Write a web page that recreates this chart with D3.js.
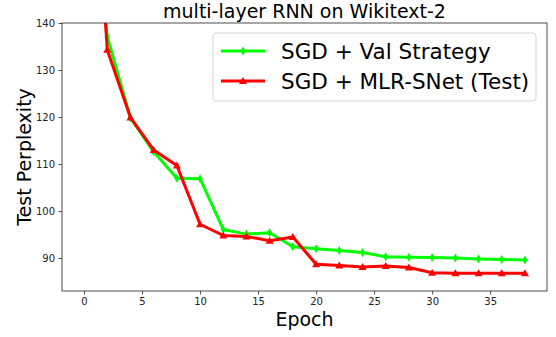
<!DOCTYPE html>
<html>
<head>
<meta charset="utf-8">
<script src="https://cdn.jsdelivr.net/npm/d3@7"></script>
<style>
body { margin: 0; background: #fff; }
text { font-family: "DejaVu Sans", sans-serif; }
</style>
</head>
<body>
<script>
var epochs = [0, 2, 4, 6, 8, 10, 12, 14, 16, 18, 20, 22, 24, 26, 28, 30, 32, 34, 36, 38];
var valStrategy = [178, 137.1, 119.8, 112.6, 107.0, 106.9, 96.1, 95.1, 95.4, 92.4, 92.0, 91.6, 91.2, 90.3, 90.2, 90.1, 90.0, 89.8, 89.7, 89.6];
var mlrSnet = [210, 134.3, 119.9, 113.0, 109.7, 97.2, 94.8, 94.6, 93.7, 94.5, 88.7, 88.4, 88.1, 88.3, 88.0, 86.9, 86.8, 86.8, 86.8, 86.8];
var xTicks = [0, 5, 10, 15, 20, 25, 30, 35];
var yTicks = [90, 100, 110, 120, 130, 140];
var seriesNames = ["SGD + Val Strategy", "SGD + MLR-SNet (Test)"];

var W = 556, H = 337;
var plotL = 62, plotR = 547, plotT = 23, plotB = 291;

var svg = d3.select("body").append("svg")
    .attr("width", W)
    .attr("height", H);

var x = d3.scaleLinear().domain([-1.9, 39.9]).range([plotL, plotR]);
var y = d3.scaleLinear().domain([83, 140]).range([plotB, plotT]);

svg.append("defs").append("clipPath").attr("id", "clip")
    .append("rect")
    .attr("x", plotL).attr("y", plotT)
    .attr("width", plotR - plotL).attr("height", plotB - plotT);

// axes
var xAxis = svg.append("g")
    .attr("transform", "translate(0," + plotB + ")")
    .call(d3.axisBottom(x).tickValues(xTicks).tickSize(3.5).tickPadding(3.5));
var yAxis = svg.append("g")
    .attr("transform", "translate(" + plotL + ",0)")
    .call(d3.axisLeft(y).tickValues(yTicks).tickSize(3.5).tickPadding(3.5));
[xAxis, yAxis].forEach(function(a) {
    a.select(".domain").remove();
    a.selectAll("text").attr("font-size", 10).attr("fill", "#222")
        .style("font-family", "DejaVu Sans, sans-serif");
    a.selectAll("line").attr("stroke", "#222").attr("stroke-width", 0.8);
});

var series = [
    { name: seriesNames[0], values: valStrategy, color: "#00ff00", marker: "diamond" },
    { name: seriesNames[1], values: mlrSnet, color: "#ff0000", marker: "triangle" }
];

var line = d3.line()
    .x(function(d) { return x(d[0]); })
    .y(function(d) { return y(d[1]); });

function markerPath(type) {
    if (type === "diamond") {
        return "M0,-4.5L2.6,0L0,4.5L-2.6,0Z";
    }
    return "M0,-4L4,3L-4,3Z";
}

var plot = svg.append("g").attr("clip-path", "url(#clip)");

series.forEach(function(s) {
    var pts = epochs.map(function(e, i) { return [e, s.values[i]]; });
    plot.append("path")
        .datum(pts)
        .attr("fill", "none")
        .attr("stroke", s.color)
        .attr("stroke-width", 3)
        .attr("stroke-linejoin", "round")
        .attr("d", line);
    plot.selectAll(null)
        .data(pts)
        .enter()
        .append("path")
        .attr("d", markerPath(s.marker))
        .attr("fill", s.color)
        .attr("transform", function(d) {
            return "translate(" + x(d[0]) + "," + y(d[1]) + ")";
        });
});

// frame
svg.append("rect")
    .attr("x", plotL).attr("y", plotT)
    .attr("width", plotR - plotL).attr("height", plotB - plotT)
    .attr("fill", "none")
    .attr("stroke", "#222")
    .attr("stroke-width", 0.8);

// title and labels
svg.append("text")
    .attr("x", (plotL + plotR) / 2)
    .attr("y", 18)
    .attr("text-anchor", "middle")
    .attr("font-size", 19)
    .text("multi-layer RNN on Wikitext-2");

svg.append("text")
    .attr("x", (plotL + plotR) / 2)
    .attr("y", 326)
    .attr("text-anchor", "middle")
    .attr("font-size", 19)
    .text("Epoch");

svg.append("text")
    .attr("transform", "translate(31," + ((plotT + plotB) / 2) + ") rotate(-90)")
    .attr("text-anchor", "middle")
    .attr("font-size", 19)
    .text("Test Perplexity");

// legend
var legend = svg.append("g");
legend.append("rect")
    .attr("x", 213).attr("y", 33)
    .attr("width", 323).attr("height", 68)
    .attr("rx", 3)
    .attr("fill", "rgba(255,255,255,0.8)")
    .attr("stroke", "#ccc")
    .attr("stroke-width", 0.8);

series.forEach(function(s, i) {
    var ly = 51 + i * 30;
    legend.append("line")
        .attr("x1", 221).attr("x2", 265)
        .attr("y1", ly).attr("y2", ly)
        .attr("stroke", s.color)
        .attr("stroke-width", 3);
    legend.append("path")
        .attr("d", markerPath(s.marker))
        .attr("fill", s.color)
        .attr("transform", "translate(243," + ly + ")");
    legend.append("text")
        .attr("x", 281)
        .attr("y", ly + 7.5)
        .attr("font-size", 21.5)
        .text(s.name);
});
</script>
</body>
</html>
